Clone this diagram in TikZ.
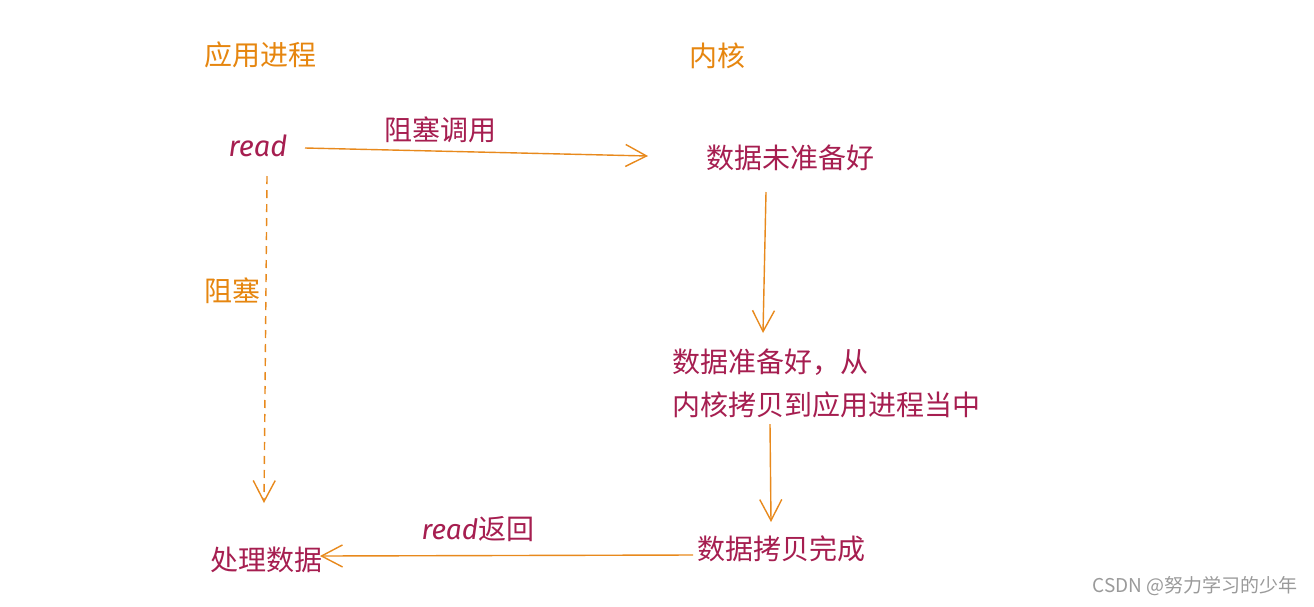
\documentclass[tikz,border=0pt]{standalone}
\usepackage{fontspec}
\setmainfont{Noto Sans CJK SC}
\newfontfamily\cjk{Noto Sans CJK SC}
\newfontfamily\hand{Fira Sans}
\usetikzlibrary{arrows.meta,calc}
\definecolor{orangetxt}{HTML}{E6860F}
\definecolor{crim}{HTML}{A61E50}
\definecolor{arr}{HTML}{E8891C}
\definecolor{wm}{HTML}{9A9A9A}
\begin{document}
\begin{tikzpicture}[x=1pt,y=-1pt,
  lbl/.style={font=\cjk\fontsize{28}{43}\selectfont, inner sep=2pt},
  hd/.style={lbl, text=orangetxt},
  tx/.style={lbl, text=crim},
  conn/.style={draw=arr, line width=1.4pt, -{Straight Barb[length=21pt,width=22pt,line width=1.4pt]}},
  dsh/.style={conn, dash pattern=on 8pt off 6pt}]
\useasboundingbox (0,0) rectangle (1314,606);
\fill[white] (0,0) rectangle (1314,606);
\node[hd] (app) at (260,55) {应用进程};
\node[hd] (kern) at (717,56) {内核};
\node[tx, font=\hand\itshape\fontsize{29}{32}\selectfont] (read) at (258,146) {read};
\node[tx] (notready) at (790,158) {数据未准备好};
\node[tx, anchor=west, align=left] (copy) at (670,383) {数据准备好，从\\内核拷贝到应用进程当中};
\node[tx] (done) at (781,549) {数据拷贝完成};
\node[tx] (proc) at (266,560) {处理数据};
\node[tx] (callL) at (440,130) {阻塞调用};
\node[hd] (blockL) at (232,291) {阻塞};
\node[tx] (retL) at (478,529) {{\hand\itshape read}返回};
\node[font=\cjk\fontsize{19}{21}\selectfont, text=wm, anchor=east, inner sep=0pt] (wmk) at (1298,586) {CSDN @努力学习的少年};
\draw[conn] ($(read)+(47,2)$) -- ($(notready)+(-142,-2)$);
\draw[conn] ($(notready)+(-24,34)$) -- ($(copy.west)+(93,-50)$);
\draw[conn] ($(copy.west)+(100,41)$) -- ($(done)+(-10,-27)$);
\draw[conn] ($(done)+(-88,6)$) -- ($(proc)+(54,-4)$);
\draw[dsh] ($(read)+(9,30)$) -- ($(proc)+(-2,-57)$);
\end{tikzpicture}
\end{document}
